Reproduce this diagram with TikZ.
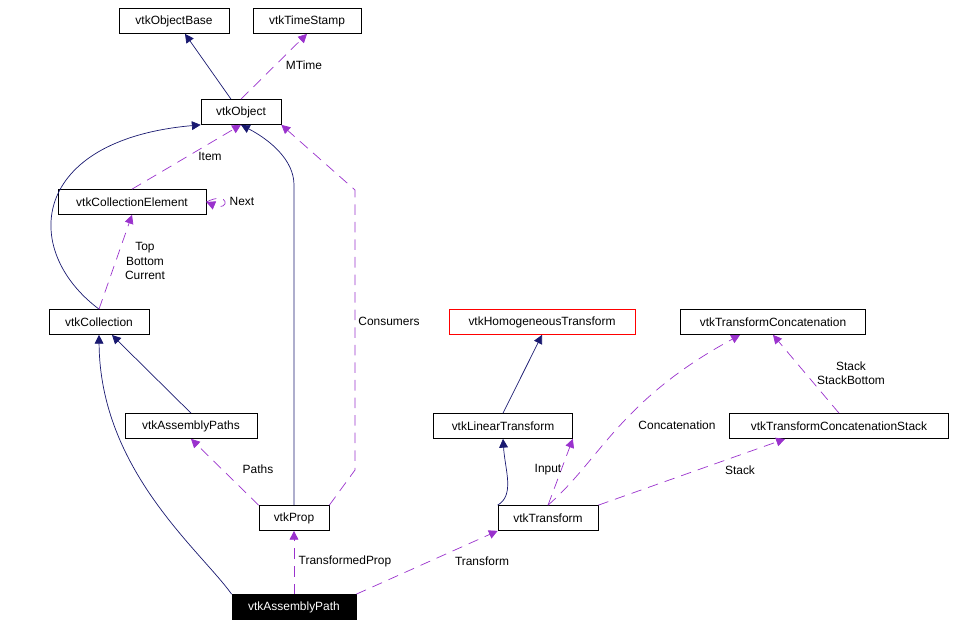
\documentclass[tikz,border=0pt]{standalone}
\usepackage{fontspec}
\setmainfont{Liberation Sans}
\usetikzlibrary{arrows.meta}
\definecolor{usecol}{RGB}{154,50,205}
\definecolor{inhcol}{RGB}{25,25,112}
\tikzset{
  cls/.style={draw=black,fill=white,inner sep=0pt,minimum height=25*0.02cm,font=\fontsize{6.8}{8}\selectfont},
  inh/.style={draw=inhcol,-{Triangle[length=5pt,width=5pt]}},
  use/.style={draw=usecol,dash pattern=on 6pt off 4pt,-{Triangle[length=5pt,width=5pt,fill=usecol]}},
  lab/.style={font=\fontsize{6.8}{8}\selectfont,align=center}
}
\begin{document}
\begin{tikzpicture}[x=0.02cm,y=-0.02cm]
\useasboundingbox (0,0) rectangle (956,628);
\node[cls,minimum width=110*0.02cm] (base) at (174,21) {vtkObjectBase};
\node[cls,minimum width=108*0.02cm] (stamp) at (307,21) {vtkTimeStamp};
\node[cls,minimum width=80*0.02cm] (obj) at (241,112) {vtkObject};
\node[cls,minimum width=148*0.02cm] (elem) at (132,202) {vtkCollectionElement};
\node[cls,minimum width=100*0.02cm] (coll) at (99,322) {vtkCollection};
\node[cls,minimum width=132*0.02cm] (paths) at (191,426) {vtkAssemblyPaths};
\node[cls,minimum width=70*0.02cm] (prop) at (294,518) {vtkProp};
\node[cls,minimum width=124*0.02cm,fill=black,text=white] (path) at (294,607) {vtkAssemblyPath};
\node[cls,minimum width=186*0.02cm,draw=red] (homo) at (542,322) {vtkHomogeneousTransform};
\node[cls,minimum width=185*0.02cm] (concat) at (773,322) {vtkTransformConcatenation};
\node[cls,minimum width=139*0.02cm] (lin) at (503,426) {vtkLinearTransform};
\node[cls,minimum width=219*0.02cm] (stack) at (839,426) {vtkTransformConcatenationStack};
\node[cls,minimum width=100*0.02cm] (trans) at (548,518) {vtkTransform};

% inheritance
\draw[inh] (obj.north) ++(-10,0) coordinate (o1) (o1) -- (base.south -| 185,0);
\draw[inh] (coll.north) .. controls (20,250) and (30,140) .. (obj.south west);
\draw[inh] (paths.north) -- (112,335);
\draw[inh] (prop.north) -- (294,185) .. controls (294,160) and (270,140) .. (obj.south);
\draw[inh] (path.north west) .. controls (200,550) and (100,470) .. (coll.south);
\draw[inh] (lin.north) -- (homo.south);
\draw[inh] (trans.north west) .. controls (515,495) and (505,470) .. (lin.south);

% usage
\draw[use] (obj.north) -- (stamp.south);
\node[lab] at (304,65) {MTime};
\draw[use] (elem.north) -- (obj.south);
\node[lab] at (210,156) {Item};
\draw[use] (elem.east) .. controls (230,190) and (230,212) .. (elem.east);
\node[lab] at (242,201) {Next};
\draw[use] (coll.north) -- (elem.south);
\node[lab] at (145,261) {Top\\Bottom\\Current};
\draw[use] (prop.north east) -- (355,470) -- (355,190) -- (obj.south east);
\node[lab] at (389,321) {Consumers};
\draw[use] (prop.north west) -- (paths.south);
\node[lab] at (258,469) {Paths};
\draw[use] (path.north) -- (prop.south);
\node[lab] at (345,561) {TransformedProp};
\draw[use] (path.north east) -- (trans.south west);
\node[lab] at (482,561) {Transform};
\draw[use] (trans.north) -- (lin.south east);
\node[lab] at (548,470) {Input};
\draw[use] (trans.north) .. controls (600,460) and (620,400) .. (740,335);
\node[lab] at (677,425) {Concatenation};
\draw[use] (trans.north east) -- (785,439);
\node[lab] at (740,470) {Stack};
\draw[use] (stack.north) -- (concat.south);
\node[lab] at (851,373) {Stack\\StackBottom};
\end{tikzpicture}
\end{document}
